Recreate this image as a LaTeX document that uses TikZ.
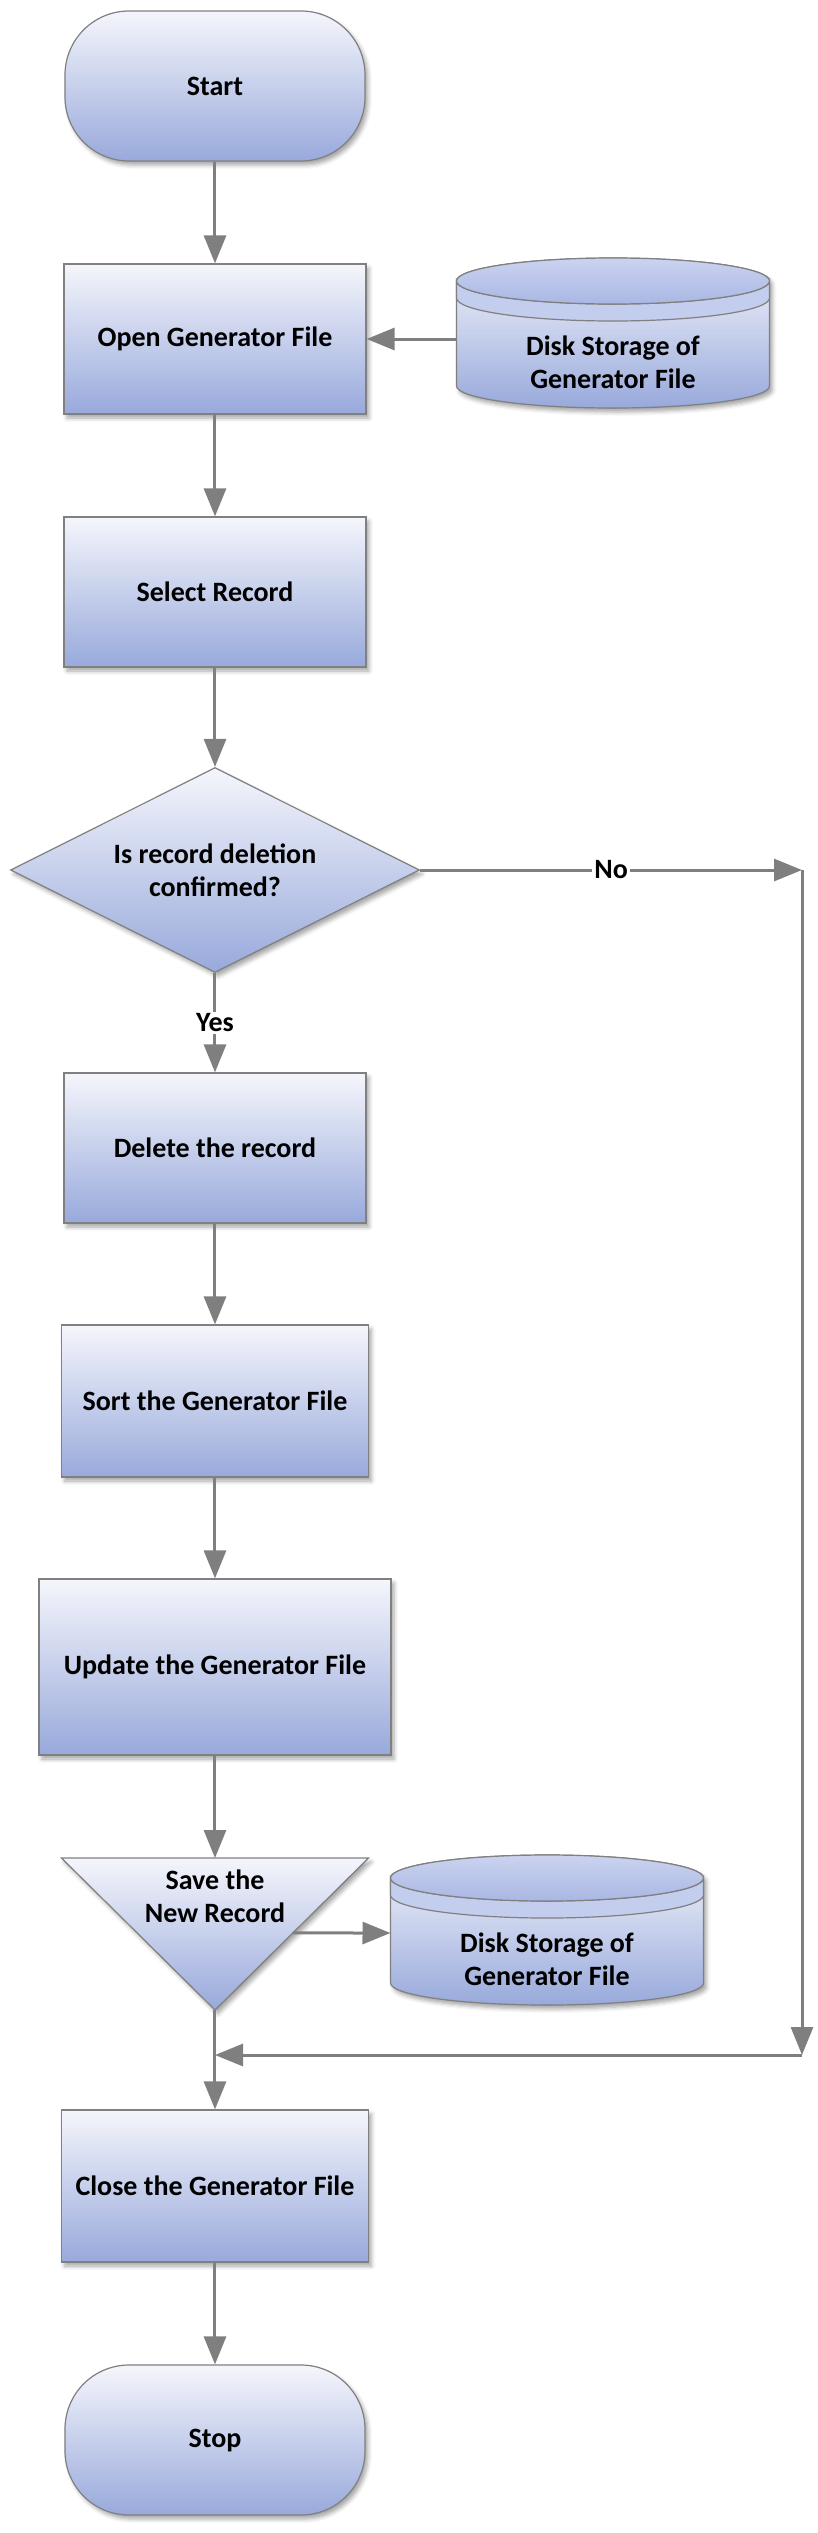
\documentclass[tikz,border=0pt]{standalone}
\usepackage{fontspec}
\setmainfont{Carlito}
\usetikzlibrary{arrows.meta, shapes.geometric, positioning, calc, backgrounds, shadows.blur}

\definecolor{boxtop}{HTML}{F5F6FC}
\definecolor{boxbot}{HTML}{98A9DB}
\definecolor{edgegray}{HTML}{808080}
\definecolor{linegray}{HTML}{7F7F7F}
\definecolor{lidtop}{HTML}{CBD3F0}
\definecolor{lidbot}{HTML}{A9B7E3}
\definecolor{diskband}{HTML}{C3CDED}

\tikzset{
  shade box/.style = {draw=edgegray, line width=1.2pt, top color=boxtop, bottom color=boxbot,
    blur shadow={shadow xshift=3pt, shadow yshift=-4pt, shadow blur radius=4pt, shadow opacity=35}},
  terminal/.style = {shade box, rectangle, rounded corners=64pt, minimum width=300pt, minimum height=150pt},
  process/.style = {shade box, rectangle, minimum width=302pt, minimum height=150pt},
  decision/.style = {shade box, diamond, aspect=2, inner sep=0pt, minimum width=409pt, minimum height=205pt},
  flow/.style = {draw=linegray, line width=3pt, -{Triangle[length=28pt, width=22pt]}},
  answer/.style = {fill=white, inner sep=2pt}
}

\begin{document}
\begin{tikzpicture}[on grid, node distance=253pt, font=\fontsize{28}{33}\selectfont\bfseries, align=center]
		\useasboundingbox (-215pt,86pt) rectangle (602pt,-2447pt);
		\node[terminal] (start) {Start};
		\node[process, below = of start] (open) {Open Generator File};
		\node[below right = 23pt and 398pt of open] (disk1) {Disk Storage of\\Generator File};
		\node[process, below = of open] (select) {Select Record};
		\node[decision, below = 278pt of select] (decide) {Is record deletion\\confirmed?};
		\node[process, below = 278pt of decide] (delete) {Delete the record};
		\node[process, below = of delete, minimum width=307pt, minimum height=152pt] (sort) {Sort the Generator File};
		\node[process, below = 266pt of sort, minimum width=352pt, minimum height=176pt] (update) {Update the Generator File};
		\node[below = 229pt of update] (save) {Save the\\New Record};
		\node[below right = 292pt and 332pt of update] (disk2) {Disk Storage of\\Generator File};
		\node[process, below = 519pt of update, minimum width=307pt, minimum height=152pt] (close) {Close the Generator File};
		\node[terminal, below = 254pt of close] (stop) {Stop};
		
		\coordinate (savetop) at ([yshift=-191pt]update.center);
		\coordinate (savetl) at ([xshift=-153.5pt]savetop);
		\coordinate (savetr) at ([xshift=153.5pt]savetop);
		\coordinate (saveapex) at ([yshift=-152pt]savetop);
		\coordinate (saveout) at ($(savetr)!0.493!(saveapex)$);
		\coordinate (disk1edge) at ([xshift=-156.5pt]disk1.center);
		\coordinate (disk2edge) at ([xshift=-156.5pt, yshift=26pt]disk2.center);
		\coordinate (nocorner) at ([xshift=587pt]decide.center);
		\coordinate (merge) at ([yshift=-45pt]saveapex);
		\coordinate (mergecorner) at (nocorner |- merge);
		
		\begin{scope}[on background layer]
		\filldraw[shade box] (savetl) -- (savetr) -- (saveapex) -- cycle;
		\foreach \d in {disk1, disk2} {
			\filldraw[shade box] ([xshift=-156.5pt, yshift=81pt]\d.center) -- ([xshift=-156.5pt, yshift=-24pt]\d.center)
			arc[start angle=180, end angle=360, x radius=156.5pt, y radius=22pt]
			-- ([xshift=156.5pt, yshift=81pt]\d.center)
			arc[start angle=0, end angle=180, x radius=156.5pt, y radius=23pt] -- cycle;
			\filldraw[draw=edgegray, line width=1.2pt, fill=diskband] ([xshift=-156.5pt, yshift=81pt]\d.center)
			arc[start angle=180, end angle=360, x radius=156.5pt, y radius=23pt]
			-- ++(0,-17pt) arc[start angle=0, end angle=-180, x radius=156.5pt, y radius=23pt] -- cycle;
			\filldraw[draw=edgegray, line width=1.2pt, top color=lidtop, bottom color=lidbot] ([yshift=81pt]\d.center) ellipse[x radius=156.5pt, y radius=23pt];
		}
		\end{scope}
		
		\path[every edge/.style=flow] (start) edge (open)
		(disk1edge |- open) edge (open)
		(open) edge (select)
		(select) edge (decide)
		(decide) edge node[answer] {Yes} (delete)
		(decide) edge node[answer] {No} (nocorner)
		(nocorner) edge (mergecorner)
		(mergecorner) edge (merge)
		(delete) edge (sort)
		(sort) edge (update)
		(update) edge (savetop)
		(saveout) edge (disk2edge)
		(saveapex) edge (close)
		(close) edge (stop);
		\end{tikzpicture}
\end{document}
